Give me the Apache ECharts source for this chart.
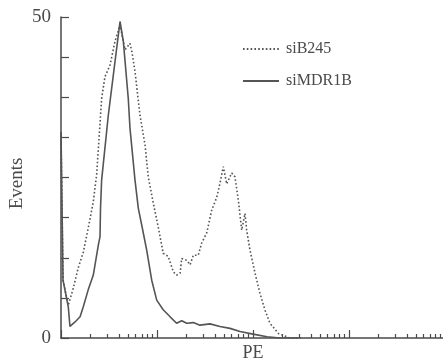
<!DOCTYPE html>
<html>
<head>
<meta charset="utf-8">
<script src="https://cdn.jsdelivr.net/npm/echarts@6/dist/echarts.min.js"></script>
<style>
  html, body { margin: 0; padding: 0; background: #fff; }
  #chart { width: 443px; height: 362px; }
</style>
</head>
<body>
<div id="chart"></div>
<script>
// PE intensity (log scale) and event counts
const mdrPE = [1.00, 1.05, 1.19, 1.24, 1.29, 1.40, 1.58, 1.71, 1.92, 2.17, 2.45, 2.55, 2.58, 2.65, 3.11, 3.51, 4.12, 4.46, 5.02, 5.23, 5.90, 6.39, 6.93, 7.81, 8.81, 9.93, 11.6, 13.7, 16.0, 18.1, 20.4, 23.9, 28.0, 35.7, 45.3, 57.6, 73.2, 100, 140, 191, 300]
const mdrEvents = [32.1, 9.0, 4.9, 1.8, 1.6, 2.5, 3.3, 4.9, 7.5, 9.8, 14.5, 15.8, 20.2, 24.6, 34.7, 41.0, 49.3, 46.2, 37.3, 32.7, 24.6, 20.2, 17.6, 13.7, 9.0, 5.9, 4.4, 3.3, 2.3, 2.7, 2.3, 2.4, 2.0, 2.2, 1.8, 1.5, 1.0, 0.6, 0.2, 0, 0]

const b245PE = [1.00, 1.05, 1.19, 1.34, 1.51, 1.71, 1.92, 2.17, 2.35, 2.45, 2.65, 2.87, 3.24, 3.65, 4.12, 4.64, 5.23, 5.49, 5.90, 6.65, 7.50, 8.11, 9.15, 10.3, 11.6, 13.1, 14.8, 16.0, 17.4, 18.1, 20.4, 22.1, 23.9, 26.9, 29.2, 33.0, 37.1, 41.9, 45.3, 49.1, 53.2, 54.2, 60.0, 64.9, 70.3, 76.3, 82.5, 85.9, 93.0, 105, 118, 133, 150, 184, 243, 320]
const b245Events = [32.1, 9.0, 5.1, 7.7, 10.9, 13.4, 17.1, 21.2, 25.4, 29.5, 37.3, 40.7, 42.5, 46.2, 48.8, 44.9, 45.9, 44.5, 41.5, 34.7, 30.1, 25.1, 21.0, 17.3, 13.2, 12.7, 10.3, 9.8, 10.1, 12.4, 12.1, 11.4, 12.9, 12.9, 14.8, 16.4, 19.9, 21.9, 24.1, 26.7, 24.0, 23.7, 25.7, 25.1, 21.5, 16.8, 19.4, 16.8, 13.7, 10.1, 7.0, 4.4, 2.3, 0.7, 0, 0]

const majorTicks = [1, 10, 100, 1000, 10000]
const minorTicks = [2, 3, 4, 5, 6, 7, 8, 9, 20, 30, 40, 50, 60, 70, 80, 90, 200, 300, 400, 500, 600, 700, 800, 900, 2000, 3000, 4000, 5000, 6000, 7000, 8000, 9000]

const ink = '#4a4a4a'
const serif = '"Liberation Serif", "DejaVu Serif", serif'

const zip = (xs, ys) => xs.map((x, i) => [x, ys[i]])

const chart = echarts.init(document.getElementById('chart'))

chart.setOption({
  animation: false,
  grid: { left: 61, top: 17, right: -2, bottom: 24, outerBoundsMode: 'none' },
  legend: {
    orient: 'vertical',
    left: 237,
    top: 36,
    itemWidth: 36,
    itemHeight: 14,
    itemGap: 16,
    itemStyle: { opacity: 0 },
    textStyle: { fontFamily: serif, fontSize: 16, color: ink, padding: [0, 0, 0, 2] },
    data: ['siB245', 'siMDR1B']
  },
  xAxis: [
    {
      type: 'log',
      logBase: 10,
      min: 1,
      max: 10000,
      name: 'PE',
      nameLocation: 'middle',
      nameGap: 6,
      nameMoveOverlap: false,
      nameTextStyle: { fontFamily: serif, fontSize: 18, color: ink },
      axisLine: { lineStyle: { color: ink, width: 1.5 } },
      axisTick: { inside: true, length: 8, customValues: majorTicks, lineStyle: { color: ink, width: 1.2 } },
      axisLabel: { show: false },
      splitLine: { show: false }
    },
    {
      type: 'log',
      logBase: 10,
      min: 1,
      max: 10000,
      position: 'bottom',
      axisLine: { show: false },
      axisTick: { inside: true, length: 4, customValues: minorTicks, lineStyle: { color: ink, width: 1.2 } },
      axisLabel: { show: false },
      splitLine: { show: false }
    }
  ],
  yAxis: {
    type: 'value',
    min: 0,
    max: 50,
    interval: 6.25,
    name: 'Events',
    nameLocation: 'middle',
    nameGap: 34,
    nameMoveOverlap: false,
    nameTextStyle: { fontFamily: serif, fontSize: 19, color: ink, padding: [0, 12, 0, 0] },
    axisLine: { show: true, lineStyle: { color: ink, width: 1.5 } },
    axisTick: { show: true, inside: true, length: 8, lineStyle: { color: ink, width: 1.2 } },
    axisLabel: {
      fontFamily: serif,
      fontSize: 19,
      color: ink,
      margin: 10,
      formatter: v => (v === 0 || v === 50 ? String(v) : '')
    },
    splitLine: { show: false }
  },
  series: [
    {
      name: 'siB245',
      type: 'line',
      xAxisIndex: 0,
      showSymbol: false,
      symbol: 'none',
      data: zip(b245PE, b245Events),
      lineStyle: { color: '#555', width: 1.6, type: [1.6, 2.2] },
      itemStyle: { color: '#555' }
    },
    {
      name: 'siMDR1B',
      type: 'line',
      xAxisIndex: 0,
      showSymbol: false,
      symbol: 'none',
      data: zip(mdrPE, mdrEvents),
      lineStyle: { color: '#555', width: 1.6 },
      itemStyle: { color: '#555' }
    }
  ]
})
</script>
</body>
</html>
